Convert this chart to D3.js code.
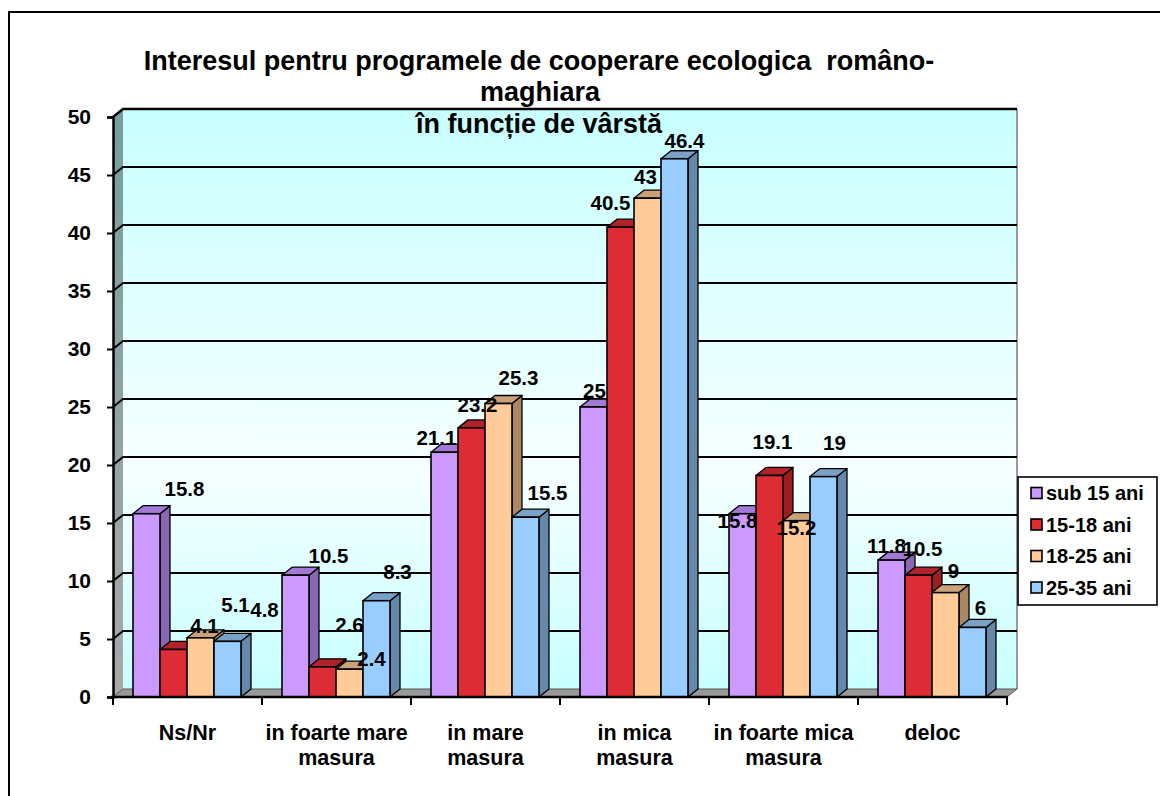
<!DOCTYPE html>
<html>
<head>
<meta charset="utf-8">
<script src="https://cdn.jsdelivr.net/npm/d3@7"></script>
<style>
  html, body { margin: 0; padding: 0; background: #fff; }
  svg { display: block; }
  text { font-family: "Liberation Sans", Arial, sans-serif; font-weight: bold; fill: #000; }
</style>
</head>
<body>
<svg id="chart" width="1160" height="796"></svg>
<script>
// ---- data ----
const categories = [["Ns/Nr"], ["in foarte mare", "masura"], ["in mare", "masura"], ["in mica", "masura"], ["in foarte mica", "masura"], ["deloc"]];
const seriesNames = ["sub 15 ani", "15-18 ani", "18-25 ani", "25-35 ani"];
const sub15 = [15.8, 10.5, 21.1, 25, 15.8, 11.8];
const a15_18 = [4.1, 2.6, 23.2, 40.5, 19.1, 10.5];
const a18_25 = [5.1, 2.4, 25.3, 43, 15.2, 9];
const a25_35 = [4.8, 8.3, 15.5, 46.4, 19, 6];
const yTicks = [0, 5, 10, 15, 20, 25, 30, 35, 40, 45, 50];
const titleLines = ["Interesul pentru programele de cooperare ecologica  româno-", "maghiara", "în funcție de vârstă"];

(function () {
const seriesValues = [sub15, a15_18, a18_25, a25_35];
const colors = [
  { front: "#cc99ff", side: "#8866b0", top: "#a27ad6" },
  { front: "#dd2c33", side: "#9c1d22", top: "#b0232a" },
  { front: "#ffcc99", side: "#aa8866", top: "#c9a27a" },
  { front: "#99ccff", side: "#6688aa", top: "#7aa2c9" }
];
// layout: label nudges (label centre relative to bar centre / bar top), [category][series]
const labelNudge = [
  [[38, -25], [31, -24], [35, -33], [37, -32]],
  [[33, -20], [27, -42], [22, -11], [21, -29]],
  [[-8, -15], [6, -23], [20, -26], [22, -25]],
  [[1, -17], [-10, -25], [-2, -22], [10, -18]],
  [[-5, 7], [3, -34], [0, 7], [11, -34]],
  [[-5, -15], [4, -27], [8, -22], [8, -20]]
];

const svg = d3.select("#chart");
const W = 1160, H = 796;
const DX = 10, DY = -8;           // 3D depth offset
const pLeft = 113, pRight = 1007, pBottom = 697, pTop = 117;

const catKeys = categories.map((c, i) => i);
const x0 = d3.scaleBand().domain(catKeys).range([pLeft, pRight]).paddingInner(0).paddingOuter(0);
const x1 = d3.scaleBand().domain(d3.range(seriesNames.length)).range([20, 128]).padding(0);
const y = d3.scaleLinear().domain([0, 50]).range([pBottom, pTop]);

// defs
const defs = svg.append("defs");
const wallGrad = defs.append("linearGradient").attr("id", "wall")
  .attr("gradientUnits", "userSpaceOnUse")
  .attr("x1", 0).attr("y1", pTop + DY).attr("x2", 0).attr("y2", pBottom + DY);
wallGrad.append("stop").attr("offset", 0).attr("stop-color", "#c8ffff");
wallGrad.append("stop").attr("offset", 0.62).attr("stop-color", "#f6ffff");
wallGrad.append("stop").attr("offset", 1).attr("stop-color", "#c8ffff");
const sideGrad = defs.append("linearGradient").attr("id", "sidewall")
  .attr("gradientUnits", "userSpaceOnUse")
  .attr("x1", 0).attr("y1", pTop).attr("x2", 0).attr("y2", pBottom);
sideGrad.append("stop").attr("offset", 0).attr("stop-color", "#789e9e");
sideGrad.append("stop").attr("offset", 1).attr("stop-color", "#a9a9a9");

// outer border
svg.append("rect").attr("x", 9).attr("y", 12).attr("width", W + 20).attr("height", H + 20)
  .attr("fill", "#fff").attr("stroke", "#000").attr("stroke-width", 2);

// back wall
svg.append("rect").attr("x", pLeft + DX).attr("y", pTop + DY)
  .attr("width", pRight - pLeft).attr("height", pBottom - pTop)
  .attr("fill", "url(#wall)");
// left side wall
svg.append("path")
  .attr("d", `M${pLeft},${pTop} L${pLeft + DX},${pTop + DY} L${pLeft + DX},${pBottom + DY} L${pLeft},${pBottom} Z`)
  .attr("fill", "url(#sidewall)");
// right edge of back wall
svg.append("line").attr("x1", pRight + DX).attr("x2", pRight + DX)
  .attr("y1", pTop + DY).attr("y2", pBottom + DY)
  .attr("stroke", "#999").attr("stroke-width", 2);

// gridlines
const grid = svg.append("g");
yTicks.filter(v => v > 0).forEach(v => {
  grid.append("path")
    .attr("d", `M${pLeft},${y(v)} L${pLeft + DX},${y(v) + DY} L${pRight + DX},${y(v) + DY}`)
    .attr("fill", "none").attr("stroke", "#000").attr("stroke-width", v === 50 ? 2.5 : 2);
});

// floor
svg.append("path")
  .attr("d", `M${pLeft},${pBottom} L${pLeft + DX},${pBottom + DY} L${pRight + DX},${pBottom + DY} L${pRight},${pBottom} Z`)
  .attr("fill", "#999999").attr("stroke", "#555").attr("stroke-width", 1);

// title (drawn over the wall)
const title = svg.append("g");
const titleY = [70, 101, 133];
const titleX = [539, 540, 539];
titleLines.forEach((t, i) => {
  title.append("text").attr("x", titleX[i]).attr("y", titleY[i])
    .attr("text-anchor", "middle").attr("font-size", 27)
    .style("white-space", "pre").text(t);
});

// bars
const barsG = svg.append("g");
catKeys.forEach(ci => {
  seriesValues.forEach((vals, si) => {
    const v = vals[ci];
    const bx = x0(ci) + x1(si);
    const bw = x1.bandwidth();
    const by = y(v);
    const c = colors[si];
    const g = barsG.append("g");
    g.append("path")
      .attr("d", `M${bx + bw},${by} L${bx + bw + DX},${by + DY} L${bx + bw + DX},${pBottom + DY} L${bx + bw},${pBottom} Z`)
      .attr("fill", c.side).attr("stroke", "#000").attr("stroke-width", 1.3).attr("stroke-linejoin", "round");
    g.append("path")
      .attr("d", `M${bx},${by} L${bx + DX},${by + DY} L${bx + bw + DX},${by + DY} L${bx + bw},${by} Z`)
      .attr("fill", c.top).attr("stroke", "#000").attr("stroke-width", 1.3).attr("stroke-linejoin", "round");
    g.append("rect").attr("x", bx).attr("y", by).attr("width", bw).attr("height", pBottom - by)
      .attr("fill", c.front).attr("stroke", "#000").attr("stroke-width", 1.6);
  });
});

// front floor edge / x axis line
svg.append("line").attr("x1", pLeft - 2).attr("x2", pRight + 1).attr("y1", pBottom).attr("y2", pBottom)
  .attr("stroke", "#000").attr("stroke-width", 2.5);

// y axis
const yAxis = d3.axisLeft(y).tickValues(yTicks).tickSize(6).tickPadding(16).tickFormat(d3.format("d"));
const yG = svg.append("g").attr("transform", `translate(${pLeft},0)`).call(yAxis);
yG.select(".domain").attr("stroke", "#000").attr("stroke-width", 2.5);
yG.selectAll(".tick line").attr("stroke", "#000").attr("stroke-width", 2);
yG.selectAll(".tick text").attr("font-size", 21).attr("font-family", "Liberation Sans, Arial, sans-serif")
  .attr("font-weight", "bold").attr("fill", "#000");

// x axis ticks at category boundaries
const xTickPos = catKeys.map(ci => x0(ci)).concat([pRight]);
svg.append("g").selectAll("line").data(xTickPos).join("line")
  .attr("x1", d => d).attr("x2", d => d).attr("y1", pBottom).attr("y2", pBottom + 8)
  .attr("stroke", "#000").attr("stroke-width", 2);

// category labels
const catG = svg.append("g");
categories.forEach((lines, ci) => {
  const cx = x0(ci) + x0.bandwidth() / 2;
  const t = catG.append("text").attr("text-anchor", "middle").attr("font-size", 21.5);
  lines.forEach((ln, li) => {
    t.append("tspan").attr("x", cx).attr("y", 740 + li * 25).text(ln);
  });
});

// data labels
const labG = svg.append("g");
catKeys.forEach(ci => {
  seriesValues.forEach((vals, si) => {
    const v = vals[ci];
    const bx = x0(ci) + x1(si) + x1.bandwidth() / 2;
    const [ndx, ndy] = labelNudge[ci][si];
    labG.append("text").attr("x", bx + ndx).attr("y", y(v) + ndy + 7.5)
      .attr("text-anchor", "middle").attr("font-size", 20.5).text(String(v));
  });
});

// legend
const lg = svg.append("g").attr("transform", "translate(1018,477)");
lg.append("rect").attr("width", 139).attr("height", 128).attr("fill", "#fff")
  .attr("stroke", "#000").attr("stroke-width", 1.6);
seriesNames.forEach((name, i) => {
  const iy = 16 + i * 31.5;
  lg.append("rect").attr("x", 13).attr("y", iy - 5.5).attr("width", 11).attr("height", 11)
    .attr("fill", colors[i].front).attr("stroke", "#000").attr("stroke-width", 1.6);
  lg.append("text").attr("x", 28).attr("y", iy + 7).attr("font-size", 20).text(name);
});
})();
</script>
</body>
</html>
